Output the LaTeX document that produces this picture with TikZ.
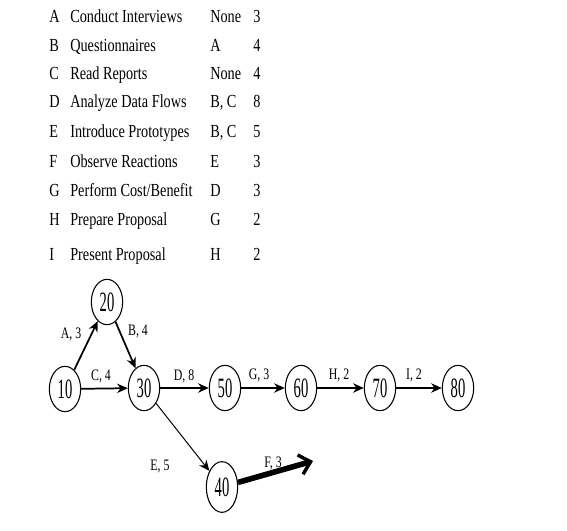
\documentclass[tikz,border=0pt]{standalone}
\usepackage{fontspec}
\setmainfont{Liberation Serif}
\newfontfamily\tablefont[FakeStretch=0.775]{Liberation Serif}
\newfontfamily\labelfont[FakeStretch=0.74]{Liberation Serif}
\newfontfamily\eventfont[FakeStretch=0.52]{Liberation Serif}
\usetikzlibrary{arrows.meta,shapes.geometric}
\begin{document}
\begin{tikzpicture}[x=0.75pt,y=0.75pt,yscale=-1,xscale=1,
  row/.style={anchor=base west,inner sep=0pt,font=\tablefont\fontsize{13.8pt}{16pt}\selectfont},
  event/.style={draw,ellipse,line width=0.8pt,inner sep=0pt,minimum width=23.5pt,minimum height=34pt,font=\eventfont\fontsize{21pt}{24pt}\selectfont},
  actlabel/.style={inner sep=0pt,font=\labelfont\fontsize{12pt}{14pt}\selectfont},
  act/.style={line width=1.3pt,-{Stealth[length=8pt,width=7pt]}},
  thinact/.style={line width=0.75pt,-{Stealth[length=8pt,width=7pt]}},
  heavyact/.style={line width=4.2pt,-{Straight Barb[length=8pt,width=15pt,line width=2.6pt]}}]
%set diagram left start at 0, and has height of 531
\useasboundingbox (0,0) rectangle (567,531);

% Activity table
\node[row] (tA) at (49,23) {A};
\node[row] (tAn) at (70,23) {Conduct Interviews};
\node[row] (tAp) at (210,23) {None};
\node[row] (tAd) at (253,23) {3};
\node[row] (tB) at (49,52) {B};
\node[row] (tBn) at (70,52) {Questionnaires};
\node[row] (tBp) at (210,52) {A};
\node[row] (tBd) at (253,52) {4};
\node[row] (tC) at (49,80) {C};
\node[row] (tCn) at (70,80) {Read Reports};
\node[row] (tCp) at (210,80) {None};
\node[row] (tCd) at (253,80) {4};
\node[row] (tD) at (49,108) {D};
\node[row] (tDn) at (70,108) {Analyze Data Flows};
\node[row] (tDp) at (210,108) {B, C};
\node[row] (tDd) at (253,108) {8};
\node[row] (tE) at (49,138) {E};
\node[row] (tEn) at (70,138) {Introduce Prototypes};
\node[row] (tEp) at (210,138) {B, C};
\node[row] (tEd) at (253,138) {5};
\node[row] (tF) at (49,167) {F};
\node[row] (tFn) at (70,167) {Observe Reactions};
\node[row] (tFp) at (210,167) {E};
\node[row] (tFd) at (253,167) {3};
\node[row] (tG) at (49,196) {G};
\node[row] (tGn) at (70,196) {Perform Cost/Benefit};
\node[row] (tGp) at (210,196) {D};
\node[row] (tGd) at (253,196) {3};
\node[row] (tH) at (49,225) {H};
\node[row] (tHn) at (70,225) {Prepare Proposal};
\node[row] (tHp) at (210,225) {G};
\node[row] (tHd) at (253,225) {2};
\node[row] (tI) at (49,260) {I};
\node[row] (tIn) at (70,260) {Present Proposal};
\node[row] (tIp) at (210,260) {H};
\node[row] (tId) at (253,260) {2};

% Events
\node[event] (n10) at (65,389) {10};
\node[event] (n20) at (107,302) {20};
\node[event] (n30) at (144,388) {30};
\node[event] (n50) at (225,388) {50};
\node[event] (n60) at (301,388) {60};
\node[event] (n70) at (380,388) {70};
\node[event] (n80) at (458,388) {80};
\node[event,minimum height=38pt] (n40) at (222,487) {40};
\coordinate (fend) at (313,461);

% Activities
\draw[act] (n10) -- (n20);
\draw[act] (n20) -- (n30);
\draw[act] (n10) -- (n30);
\draw[act] (n30) -- (n50);
\draw[act] (n50) -- (n60);
\draw[act] (n60) -- (n70);
\draw[act] (n70) -- (n80);
\draw[thinact] (n30) -- (n40);
\draw[heavyact] (n40) -- (fend);

% Text Node
\node[actlabel] (lA) at (71,334) {A, 3};
\node[actlabel] (lB) at (138,331) {B, 4};
\node[actlabel] (lC) at (101,376) {C, 4};
\node[actlabel] (lD) at (184,376) {D, 8};
\node[actlabel] (lG) at (259,375) {G, 3};
\node[actlabel] (lH) at (339,375) {H, 2};
\node[actlabel] (lI) at (414,375) {I, 2};
\node[actlabel] (lE) at (160,466) {E, 5};
\node[actlabel] (lF) at (273,463) {F, 3};

\end{tikzpicture}
\end{document}
